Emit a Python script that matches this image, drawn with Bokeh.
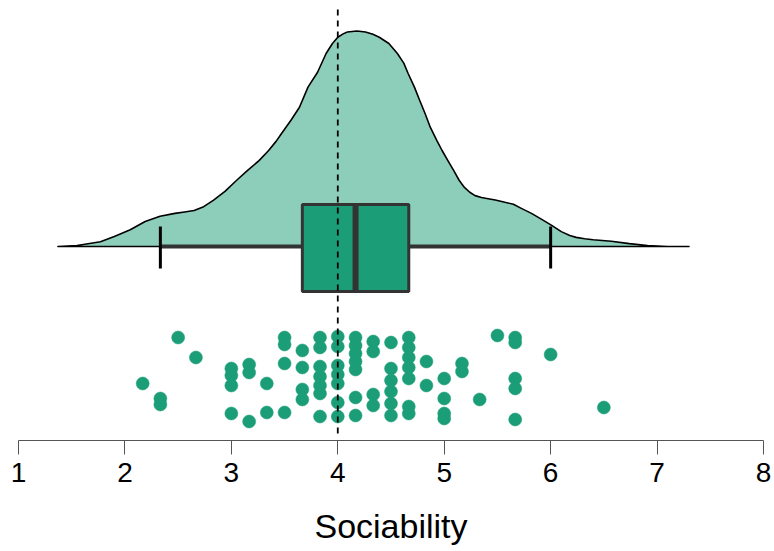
from bokeh.plotting import figure
from bokeh.models import Range1d, FixedTicker, ColumnDataSource
from bokeh.embed import file_html
from bokeh.resources import INLINE

# ---- data ----
sociability = [
    2.167,
    2.333, 2.333,
    2.5,
    2.667,
    3.0, 3.0, 3.0, 3.0,
    3.167, 3.167, 3.167,
    3.333, 3.333,
    3.5, 3.5, 3.5, 3.5,
    3.667, 3.667, 3.667, 3.667,
    3.833, 3.833, 3.833, 3.833, 3.833, 3.833, 3.833,
    4.0, 4.0, 4.0, 4.0, 4.0, 4.0, 4.0,
    4.167, 4.167, 4.167, 4.167, 4.167, 4.167, 4.167,
    4.333, 4.333, 4.333, 4.333,
    4.5, 4.5, 4.5, 4.5, 4.5, 4.5,
    4.667, 4.667, 4.667, 4.667, 4.667, 4.667, 4.667,
    4.833, 4.833,
    5.0, 5.0, 5.0, 5.0,
    5.167, 5.167,
    5.333,
    5.5,
    5.667, 5.667, 5.667, 5.667, 5.667,
    6.0,
    6.5,
]
jitter = [
    -1.37,
    -1.52, -1.58,
    -0.91,
    -1.11,
    -1.22, -1.29, -1.39, -1.67,
    -1.18, -1.26, -1.75,
    -1.37, -1.66,
    -0.91, -0.98, -1.17, -1.66,
    -1.04, -1.21, -1.43, -1.53,
    -0.91, -1.01, -1.20, -1.30, -1.39, -1.47, -1.70,
    -0.90, -1.00, -1.19, -1.28, -1.37, -1.56, -1.70,
    -0.91, -0.99, -1.07, -1.15, -1.23, -1.51, -1.69,
    -0.95, -1.05, -1.48, -1.59,
    -0.96, -1.22, -1.34, -1.45, -1.57, -1.69,
    -0.91, -1.01, -1.11, -1.21, -1.32, -1.60, -1.67,
    -1.15, -1.39,
    -1.32, -1.52, -1.67, -1.72,
    -1.17, -1.25,
    -1.53,
    -0.89,
    -0.91, -0.96, -1.32, -1.42, -1.73,
    -1.08,
    -1.61,
]

density_x = [1.37, 1.55, 1.77, 1.90, 2.05, 2.19, 2.33, 2.47, 2.56, 2.65, 2.74, 2.83,
             2.94, 3.05, 3.15, 3.26, 3.35, 3.42, 3.47, 3.56, 3.64, 3.72, 3.81, 3.89,
             3.95, 4.00, 4.05, 4.09, 4.18, 4.26, 4.33, 4.39, 4.48, 4.56, 4.62, 4.66,
             4.72, 4.77, 4.82, 4.87, 4.93, 4.98, 5.04, 5.09, 5.14, 5.19, 5.24, 5.29,
             5.35, 5.40, 5.48, 5.57, 5.65, 5.72, 5.82, 5.92, 6.01, 6.10, 6.18, 6.24,
             6.32, 6.40, 6.57, 6.74, 6.91, 7.10, 7.30]
density_y = [0.000, 0.002, 0.010, 0.021, 0.035, 0.052, 0.063, 0.069, 0.072, 0.075, 0.083, 0.096,
             0.115, 0.138, 0.158, 0.179, 0.200, 0.219, 0.235, 0.263, 0.290, 0.332, 0.363, 0.402,
             0.423, 0.436, 0.443, 0.447, 0.449, 0.447, 0.442, 0.436, 0.423, 0.402, 0.382, 0.361,
             0.332, 0.304, 0.277, 0.248, 0.221, 0.200, 0.177, 0.158, 0.138, 0.123, 0.113, 0.106,
             0.102, 0.100, 0.097, 0.092, 0.088, 0.080, 0.069, 0.056, 0.044, 0.031, 0.023, 0.019,
             0.016, 0.014, 0.011, 0.006, 0.002, 0.000, 0.000]

box_stats = {"lower": 2.333, "q1": 3.667, "median": 4.167, "q3": 4.667, "upper": 6.0}
reference_value = 4.0
x_ticks = [1, 2, 3, 4, 5, 6, 7, 8]
x_label = "Sociability"

# ---- styling / layout ----
GREEN = "#1b9e77"
DENS_SCALE = 4.8
BOX_TOP, BOX_BOTTOM = 0.42, -0.45
CAP_TOP, CAP_BOTTOM = 0.20, -0.22

p = figure(width=774, height=551, x_range=Range1d(1, 8), y_range=Range1d(-1.94, 2.46),
           output_backend="svg", toolbar_location=None, y_axis_location=None,
           min_border_left=18, min_border_right=11, min_border_top=0, min_border_bottom=111)
p.grid.visible = False
p.outline_line_color = None
p.background_fill_color = "white"
p.border_fill_color = "white"

# density cloud
p.patch(density_x, [d * DENS_SCALE for d in density_y],
        fill_color=GREEN, fill_alpha=0.5, line_color="black", line_width=1.6,
        line_join="round")

# whiskers
p.segment(x0=[box_stats["lower"]], y0=[0], x1=[box_stats["upper"]], y1=[0],
          line_color="#333333", line_width=4)
p.segment(x0=[box_stats["lower"], box_stats["upper"]], y0=[CAP_BOTTOM, CAP_BOTTOM],
          x1=[box_stats["lower"], box_stats["upper"]], y1=[CAP_TOP, CAP_TOP],
          line_color="black", line_width=3)
# box
p.quad(left=[box_stats["q1"]], right=[box_stats["q3"]], bottom=[BOX_BOTTOM], top=[BOX_TOP],
       fill_color=GREEN, line_color="#333333", line_width=3)
p.segment(x0=[box_stats["median"]], y0=[BOX_BOTTOM], x1=[box_stats["median"]], y1=[BOX_TOP],
          line_color="#333333", line_width=6)

# rain
src = ColumnDataSource(dict(x=sociability, y=jitter))
p.scatter("x", "y", source=src, size=13, fill_color=GREEN, line_color=GREEN, line_width=0.5)

# reference line
p.segment(x0=[reference_value], y0=[-1.87], x1=[reference_value], y1=[2.38],
          line_color="black", line_width=1.8, line_dash="6 5")

# axis
ax = p.xaxis[0]
ax.ticker = FixedTicker(ticks=x_ticks)
ax.axis_label = x_label
ax.axis_line_color = "#555555"
ax.major_tick_line_color = "#555555"
ax.major_tick_in = 0
ax.major_tick_out = 14
ax.minor_tick_line_color = None
ax.major_label_standoff = 8
ax.major_label_text_font = "Liberation Sans"
ax.major_label_text_font_size = "28px"
ax.major_label_text_color = "black"
ax.axis_label_text_font = "Liberation Sans"
ax.axis_label_text_font_size = "34px"
ax.axis_label_text_font_style = "normal"
ax.axis_label_text_color = "black"
ax.axis_label_standoff = 22

open("out.html", "w").write(file_html(p, INLINE))
